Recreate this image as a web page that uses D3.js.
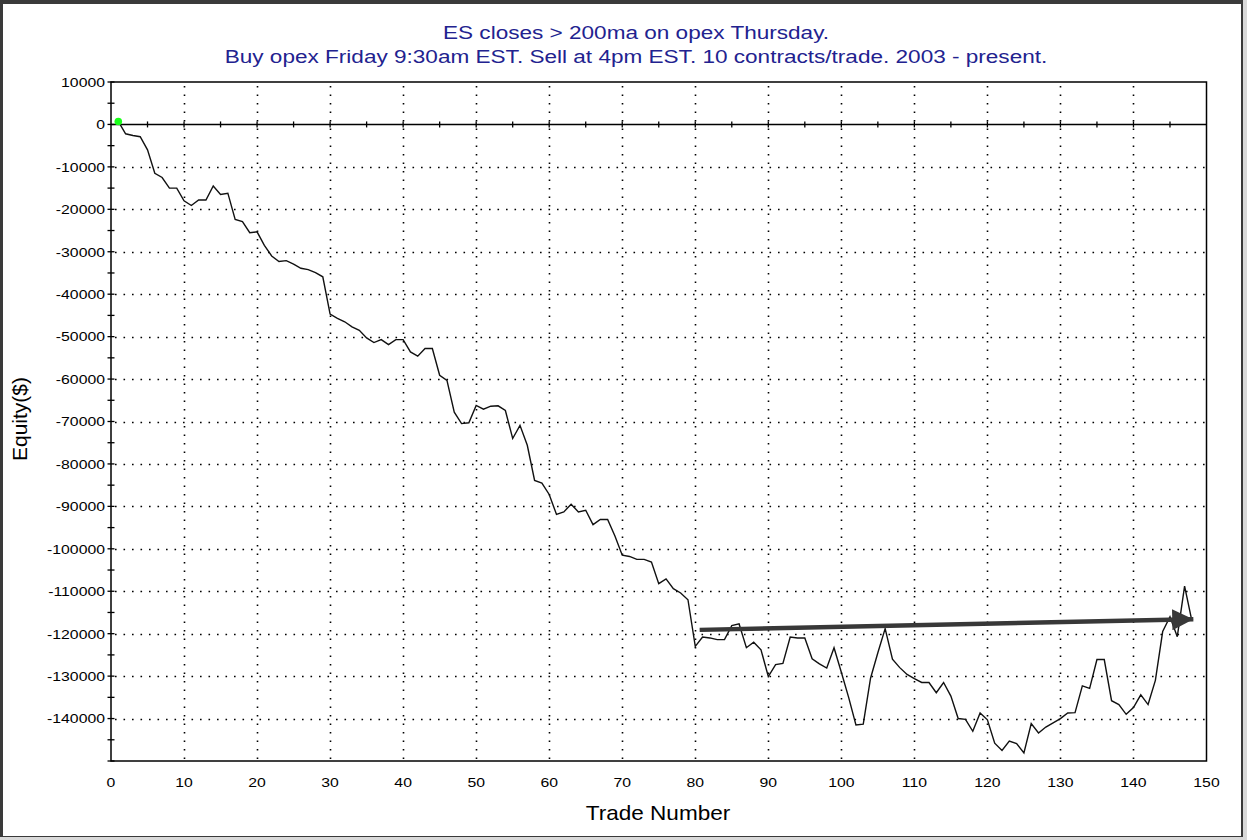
<!DOCTYPE html>
<html>
<head>
<meta charset="utf-8">
<script src="https://cdn.jsdelivr.net/npm/d3@7"></script>
<style>
  body { margin: 0; background: #fff; }
  svg { display: block; }
</style>
</head>
<body>
<svg id="chart" width="1247" height="840"></svg>
<script>
// equity after each trade, trade 1..148
const equity = [
  700, -2200, -2600, -2900, -6000, -11500, -12500, -15000, -15000, -18000,
  -19100, -17800, -17800, -14500, -16500, -16200, -22400, -22900, -25500, -25300,
  -28500, -31000, -32300, -32100, -32900, -33900, -34200, -34900, -35900, -44700,
  -45700, -46500, -47700, -48500, -50300, -51400, -50700, -51900, -50700, -50700,
  -53600, -54600, -52800, -52800, -59100, -60300, -67800, -70500, -70300, -66200,
  -67100, -66400, -66300, -67400, -74000, -70900, -75600, -83900, -84500, -87200,
  -91900, -91300, -89500, -91300, -90900, -94300, -93100, -93100, -97000, -101500,
  -101800, -102500, -102500, -103100, -108200, -107100, -109400, -110400, -112000, -123000,
  -120800, -121000, -121400, -121400, -118100, -117700, -123300, -122000, -123800, -130100,
  -127300, -127000, -120800, -121000, -121000, -125900, -127100, -128100, -123300, -129100,
  -135000, -141500, -141300, -130500, -124500, -118800, -126000, -128000, -129600, -130600,
  -131500, -131500, -133900, -131500, -134700, -140000, -140200, -143000, -138700, -140300,
  -145800, -147500, -145300, -145900, -148100, -141200, -143400, -142000, -141000, -140000,
  -138700, -138600, -132300, -132900, -126100, -126100, -135800, -136700, -139000, -137400,
  -134400, -136700, -131000, -119500, -116000, -120700, -108800, -117000
]
const trades = equity.map((d, i) => i + 1)

const xTicks = d3.range(0, 151, 10)
const yTicks = d3.range(10000, -140001, -10000)
// trend arrow drawn on the chart: [trade, equity]
const arrowFrom = [80.6, -119100]
const arrowTo = [148.2, -116600]

const titleLines = [
  'ES closes > 200ma on opex Thursday.',
  'Buy opex Friday 9:30am EST. Sell at 4pm EST. 10 contracts/trade. 2003 - present.'
]

const svg = d3.select('#chart')
const W = 1247, H = 840
const font = 'Liberation Sans, Arial, sans-serif'

// the source picture is a bit wider than tall, so text is stretched sideways
const stretched = (sel, sx) => sel.attr('transform', function () {
  const tx = +this.getAttribute('x'), ty = +this.getAttribute('y')
  this.setAttribute('x', 0); this.setAttribute('y', 0)
  return `translate(${tx},${ty}) scale(${sx},1)`
})

// outer frame
svg.append('rect').attr('width', W).attr('height', H).attr('fill', '#d9d9d9')
svg.append('rect').attr('x', 0).attr('y', 0).attr('width', 1243).attr('height', 837).attr('fill', '#3a3a3a')
svg.append('rect').attr('x', 3).attr('y', 4).attr('width', 1238).attr('height', 832).attr('fill', '#fff')

const x = d3.scaleLinear().domain([0, 150]).range([111, 1206.5])
const y = d3.scaleLinear().domain([-150000, 10000]).range([761, 82])

// grid
const grid = svg.append('g').attr('stroke', '#000').attr('stroke-width', 1.6)
  .attr('stroke-dasharray', '1.6,6.9')
grid.selectAll('.vg').data(xTicks.filter(d => d > 0 && d < 150)).enter().append('line')
  .attr('x1', d => Math.round(x(d)) + 0.5).attr('x2', d => Math.round(x(d)) + 0.5)
  .attr('y1', y(10000) + 4).attr('y2', y(-150000))
grid.selectAll('.hg').data(yTicks.filter(d => d < 0)).enter().append('line')
  .attr('x1', x(0) + 4).attr('x2', x(150))
  .attr('y1', d => Math.round(y(d)) + 0.5).attr('y2', d => Math.round(y(d)) + 0.5)

// zero line with minor ticks
svg.append('line').attr('x1', x(0)).attr('x2', x(150))
  .attr('y1', y(0)).attr('y2', y(0)).attr('stroke', '#000').attr('stroke-width', 1.5)
svg.append('g').selectAll('line').data(d3.range(5, 150, 5)).enter().append('line')
  .attr('x1', d => x(d)).attr('x2', d => x(d))
  .attr('y1', y(0) - 3).attr('y2', y(0) + 3)
  .attr('stroke', '#000').attr('stroke-width', 1.3)

// left axis minor ticks
svg.append('g').selectAll('line').data(d3.range(10000, -150001, -5000)).enter().append('line')
  .attr('x1', x(0) - 3.5).attr('x2', x(0) + 3.5)
  .attr('y1', d => y(d)).attr('y2', d => y(d))
  .attr('stroke', '#000').attr('stroke-width', 1.3)

// plot frame
svg.append('rect').attr('x', x(0)).attr('y', y(10000))
  .attr('width', x(150) - x(0)).attr('height', y(-150000) - y(10000))
  .attr('fill', 'none').attr('stroke', '#000').attr('stroke-width', 1.5)

// tick labels
svg.append('g').selectAll('text').data(yTicks).enter().append('text')
  .attr('x', x(0) - 6).attr('y', d => y(d)).attr('dy', '0.36em')
  .attr('text-anchor', 'end').attr('font-family', font).attr('font-size', 13.5)
  .text(d => d)
  .call(stretched, 1.17)
svg.append('g').selectAll('text').data(xTicks).enter().append('text')
  .attr('x', d => x(d)).attr('y', 782).attr('dy', '0.36em')
  .attr('text-anchor', 'middle').attr('font-family', font).attr('font-size', 13.5)
  .text(d => d)
  .call(stretched, 1.17)

// axis titles
svg.append('text').attr('x', 658).attr('y', 820).attr('text-anchor', 'middle')
  .attr('font-family', font).attr('font-size', 20.5).text('Trade Number')
  .call(stretched, 1.1)
svg.append('text').attr('transform', 'translate(27,419) rotate(-90)').attr('text-anchor', 'middle')
  .attr('font-family', font).attr('font-size', 21).text('Equity($)')

// title
svg.append('g').selectAll('text').data(titleLines).enter().append('text')
  .attr('x', 636).attr('y', (d, i) => 39 + i * 24).attr('text-anchor', 'middle')
  .attr('font-family', font).attr('font-size', 18.5).attr('fill', '#22228f')
  .text(d => d)
  .call(stretched, 1.22)

// equity line
const line = d3.line().x((d, i) => x(trades[i])).y(d => y(d))
svg.append('path').datum(equity).attr('d', line)
  .attr('fill', 'none').attr('stroke', '#111').attr('stroke-width', 1.4)
  .attr('stroke-linejoin', 'miter')

svg.append('circle').attr('cx', x(trades[0])).attr('cy', y(equity[0])).attr('r', 3.8)
  .attr('fill', '#1aff1a')

// arrow
svg.append('defs').append('marker').attr('id', 'head')
  .attr('viewBox', '0 0 10 10').attr('refX', 10).attr('refY', 5)
  .attr('markerWidth', 5.4).attr('markerHeight', 4.8).attr('markerUnits', 'strokeWidth')
  .attr('orient', 'auto')
  .append('path').attr('d', 'M0,0 L10,5 L0,10 Z').attr('fill', '#383838')
svg.append('line')
  .attr('x1', x(arrowFrom[0])).attr('y1', y(arrowFrom[1]))
  .attr('x2', x(arrowTo[0])).attr('y2', y(arrowTo[1]))
  .attr('stroke', '#383838').attr('stroke-width', 4.4)
  .attr('marker-end', 'url(#head)')
</script>
</body>
</html>
